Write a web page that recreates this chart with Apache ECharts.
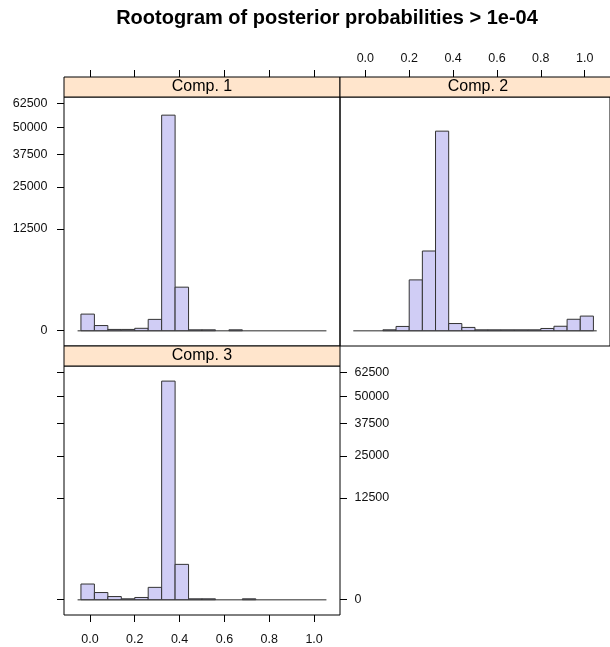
<!DOCTYPE html>
<html>
<head>
<meta charset="utf-8">
<script src="https://cdn.jsdelivr.net/npm/echarts@6/dist/echarts.min.js"></script>
<style>
html,body{margin:0;padding:0;background:#fff;}
#chart{width:610px;height:647px;}
</style>
</head>
<body>
<div id="chart"></div>
<script>
// ---- data ----
const titleText = 'Rootogram of posterior probabilities > 1e-04';
const panelNames = ['Comp. 1', 'Comp. 2', 'Comp. 3'];
// histogram bin edges (width 0.06)
const binEdges = [-0.04, 0.02, 0.08, 0.14, 0.20, 0.26, 0.32, 0.38, 0.44, 0.50,
                  0.56, 0.62, 0.68, 0.74, 0.80, 0.86, 0.92, 0.98, 1.04];
// counts per bin
const comp1Counts = [333, 32, 2, 2, 7, 155, 56100, 2290, 1, 1, 0, 1, 0, 0, 0, 0, 0, 0];
const comp2Counts = [0, 0, 1, 22, 3117, 7670, 48080, 62, 13, 1, 1, 1, 1, 1, 6, 24, 158, 258];
const comp3Counts = [297, 62, 12, 1, 6, 184, 57700, 1508, 1, 1, 0, 0, 1, 0, 0, 0, 0, 0];
const xTicks = [0.0, 0.2, 0.4, 0.6, 0.8, 1.0];
const yTickLabels = [0, 12500, 25000, 37500, 50000, 62500];
const baselineRange = [-0.055, 1.055];
const xLimits = [-0.1156, 1.1156];
const yLimitsRoot = [-16.8, 256.8]; // limits on the square-root scale

// ---- styling ----
const FONT = '"Liberation Sans", Arial, sans-serif';
const BAR_FILL = '#D0CDF5';
const BAR_STROKE = '#333333';
const STRIP_FILL = '#FFE5CC';

const grids = [
  {left: 64, top: 97, width: 276, height: 249},
  {left: 340, top: 97, width: 276, height: 249},
  {left: 64, top: 366, width: 276, height: 249}
];
const stripH = 20;

const rootTicks = yTickLabels.map(v => Math.sqrt(v));

function xAxisDef(gi, pos, showLabels) {
  return {
    type: 'value', gridIndex: gi, min: xLimits[0], max: xLimits[1],
    position: pos, offset: pos === 'top' ? stripH : 0,
    axisLine: {show: false, onZero: false},
    axisTick: {show: true, inside: false, length: 7, customValues: xTicks,
               lineStyle: {color: '#000', width: 1}},
    axisLabel: {show: showLabels, customValues: xTicks, margin: pos === 'top' ? 11.5 : 18,
                color: '#111', fontFamily: FONT, fontSize: 12.5,
                formatter: v => Number(v).toFixed(1)},
    splitLine: {show: false}
  };
}
function yAxisDef(gi, pos, showTicks, showLabels) {
  return {
    type: 'value', gridIndex: gi, min: yLimitsRoot[0], max: yLimitsRoot[1],
    position: pos,
    axisLine: {show: false, onZero: false},
    axisTick: {show: showTicks, inside: false, length: 7, customValues: rootTicks,
               lineStyle: {color: '#000', width: 1}},
    axisLabel: {show: showLabels, customValues: rootTicks, margin: pos === 'left' ? 16.5 : 14.5,
                color: '#111', fontFamily: FONT, fontSize: 12.5,
                formatter: v => String(Math.round(v * v))},
    splitLine: {show: false}
  };
}

function barSeries(counts, idx, yIdx) {
  const data = [];
  counts.forEach((c, i) => {
    if (c > 0) data.push([binEdges[i], binEdges[i + 1], Math.sqrt(c)]);
  });
  return {
    type: 'custom', xAxisIndex: idx, yAxisIndex: yIdx, z: 3,
    data: data,
    encode: {x: [0, 1], y: 2},
    renderItem: function (params, api) {
      const p0 = api.coord([api.value(0), 0]);
      const p1 = api.coord([api.value(1), api.value(2)]);
      return {
        type: 'rect',
        shape: {x: p0[0], y: p1[1], width: p1[0] - p0[0], height: Math.max(p0[1] - p1[1], 0.5)},
        style: {fill: BAR_FILL, stroke: BAR_STROKE, lineWidth: 1}
      };
    }
  };
}
function baseSeries(idx, yIdx) {
  return {
    type: 'line', xAxisIndex: idx, yAxisIndex: yIdx, z: 2,
    data: [[baselineRange[0], 0], [baselineRange[1], 0]],
    symbol: 'none', silent: true,
    lineStyle: {color: '#707070', width: 1.5}
  };
}

const graphics = [];
grids.forEach((g, i) => {
  graphics.push({
    type: 'rect', z: 10,
    shape: {x: g.left, y: g.top - stripH, width: g.width, height: stripH},
    style: {fill: STRIP_FILL, stroke: '#000', lineWidth: 1}
  });
  graphics.push({
    type: 'text', z: 11,
    x: g.left + 138, y: g.top - stripH / 2,
    style: {text: panelNames[i], fill: '#000', font: '16px ' + FONT,
            textAlign: 'center', textVerticalAlign: 'middle'}
  });
});

const chart = echarts.init(document.getElementById('chart'), null, {renderer: 'canvas'});
chart.setOption({
  animation: false,
  backgroundColor: '#fff',
  graphic: graphics.concat([{
    type: 'text', z: 11, x: 327, y: 18,
    style: {text: titleText, fill: '#000', font: 'bold 20px ' + FONT,
            textAlign: 'center', textVerticalAlign: 'middle'}
  }]),
  grid: grids.map(g => Object.assign({show: true, borderColor: '#000', borderWidth: 1,
                                      backgroundColor: 'transparent', containLabel: false}, g)),
  xAxis: [xAxisDef(0, 'top', false), xAxisDef(1, 'top', true), xAxisDef(2, 'bottom', true)],
  yAxis: [yAxisDef(0, 'left', true, true), yAxisDef(1, 'left', false, false),
          yAxisDef(2, 'left', true, false), yAxisDef(2, 'right', true, true)],
  series: [
    baseSeries(0, 0), barSeries(comp1Counts, 0, 0),
    baseSeries(1, 1), barSeries(comp2Counts, 1, 1),
    baseSeries(2, 2), barSeries(comp3Counts, 2, 2)
  ]
});
</script>
</body>
</html>
